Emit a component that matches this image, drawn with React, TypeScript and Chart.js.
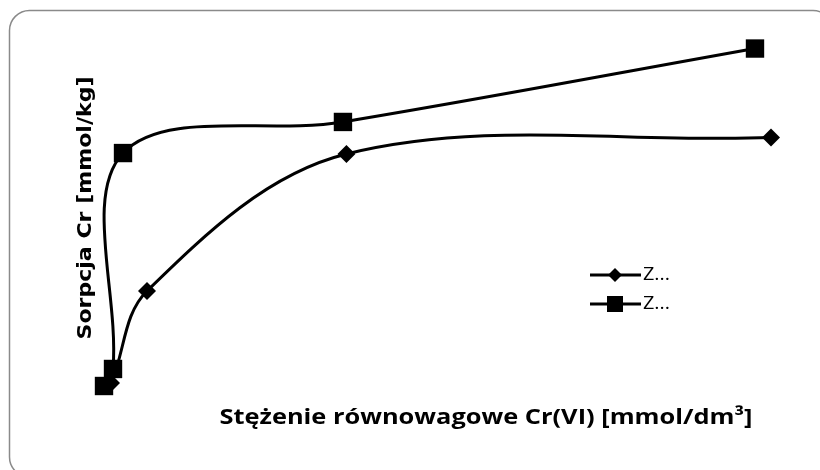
import React, { useEffect, useRef } from "react";
import { Chart, registerables } from "chart.js";
Chart.register(...registerables);

const seriesNames = ["Z...", "Z..."];
const diamondX = [0, 0.042, 0.258, 1.454, 4.0];
const diamondY = [0, 0.22, 7.03, 17.16, 18.38];
const squareX = [0, 0.054, 0.114, 1.433, 3.904];
const squareY = [0, 1.26, 17.23, 19.53, 24.96];
const xTitle = "Stężenie równowagowe Cr(VI) [mmol/dm³]";
const yTitle = "Sorpcja Cr [mmol/kg]";

const toPoints = (xs: number[], ys: number[]) => xs.map((x, i) => ({ x, y: ys[i] }));

const decorPlugin = {
  id: "decor",
  beforeDraw(chart: any) {
    const ctx = chart.ctx;
    ctx.save();
    ctx.fillStyle = "#ffffff";
    ctx.fillRect(0, 0, chart.width, chart.height);
    ctx.strokeStyle = "#8a8a8a";
    ctx.lineWidth = 1.5;
    ctx.beginPath();
    (ctx as any).roundRect(9.5, 10.5, 823.5, 466.5, 20);
    ctx.stroke();
    ctx.restore();
  },
  afterDraw(chart: any) {
    const ctx = chart.ctx;
    ctx.save();
    ctx.fillStyle = "#000000";
    // y title
    ctx.save();
    ctx.translate(86, 208);
    ctx.rotate(-Math.PI / 2);
    ctx.font = "bold 20px 'DejaVu Sans'";
    ctx.textAlign = "center";
    ctx.textBaseline = "middle";
    const yw = ctx.measureText(yTitle).width;
    ctx.scale(263 / yw, 1);
    ctx.fillText(yTitle, 0, 0);
    ctx.restore();
    // x title
    ctx.save();
    ctx.translate(486, 418);
    ctx.font = "bold 22px 'Open Sans'";
    ctx.textAlign = "center";
    ctx.textBaseline = "middle";
    const xw = ctx.measureText(xTitle).width;
    ctx.scale(533 / xw, 1);
    ctx.fillText(xTitle, 0, 0);
    ctx.restore();
    // legend
    const ys = [275, 304];
    chart.data.datasets.forEach((ds: any, i: number) => {
      const y = ys[i];
      ctx.strokeStyle = "#000";
      ctx.lineWidth = 3;
      ctx.beginPath();
      ctx.moveTo(590, y);
      ctx.lineTo(641, y);
      ctx.stroke();
      ctx.fillStyle = "#000";
      ctx.beginPath();
      if (ds.pointStyle === "rectRot") {
        const r = 7;
        ctx.moveTo(615, y - r);
        ctx.lineTo(615 + r, y);
        ctx.lineTo(615, y + r);
        ctx.lineTo(615 - r, y);
        ctx.closePath();
      } else {
        ctx.rect(607, y - 8, 16, 16);
      }
      ctx.fill();
      ctx.save();
      ctx.translate(643, y);
      ctx.font = "18px 'Open Sans'";
      ctx.textAlign = "left";
      ctx.textBaseline = "middle";
      const lw = ctx.measureText(ds.label).width;
      ctx.scale(27 / lw, 1);
      ctx.fillText(ds.label, 0, 0);
      ctx.restore();
    });
    ctx.restore();
  },
};

export default function App() {
  const ref = useRef<HTMLCanvasElement | null>(null);
  useEffect(() => {
    if (!ref.current) return;
    const chart = new Chart(ref.current, {
      type: "line",
      data: {
        datasets: [
          {
            label: seriesNames[0],
            data: toPoints(diamondX, diamondY),
            borderColor: "#000",
            backgroundColor: "#000",
            borderWidth: 3,
            pointStyle: "rectRot",
            pointRadius: 9,
            pointBorderWidth: 0,
            tension: 0.35,
            clip: false,
          } as any,
          {
            label: seriesNames[1],
            data: toPoints(squareX, squareY),
            borderColor: "#000",
            backgroundColor: "#000",
            borderWidth: 3,
            pointStyle: "rect",
            pointRadius: 13,
            pointBorderWidth: 0,
            tension: 0.35,
            clip: false,
          } as any,
        ],
      },
      options: {
        responsive: false,
        animation: false,
        devicePixelRatio: 1,
        layout: { padding: { left: 104, right: 49, top: 48, bottom: 84 } },
        elements: { line: { capBezierPoints: false } },
        scales: {
          x: { type: "linear", min: 0, max: 4, display: false },
          y: { type: "linear", min: 0, max: 25, display: false },
        },
        plugins: { legend: { display: false }, tooltip: { enabled: false } },
      },
      plugins: [decorPlugin],
    });
    return () => chart.destroy();
  }, []);
  return (
    <canvas
      ref={ref}
      width={820}
      height={470}
      style={{ position: "fixed", left: 0, top: 0, width: 820, height: 470 }}
    />
  );
}
